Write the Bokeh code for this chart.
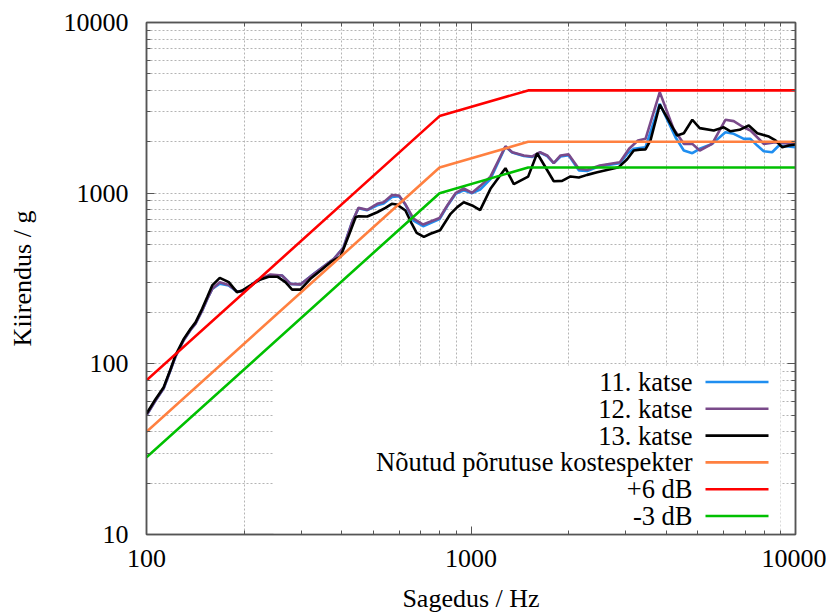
from bokeh.plotting import figure
from bokeh.models import FixedTicker, LogAxis, BoxAnnotation, Label
from bokeh.embed import file_html
from bokeh.resources import INLINE

# ---------------- data ----------------
freq_11 = [100, 106.6, 113, 118.6, 122.8, 130.3, 136.6, 141.6, 148.4, 153.9, 159.4, 168.2, 179.3, 190, 197,
           209, 219, 241, 262, 278, 298, 328, 378, 405, 430, 450, 479, 514, 538, 571, 600, 628, 665, 712,
           800, 845, 896, 950, 1008, 1067, 1148, 1277, 1340, 1455, 1545, 1632, 1717, 1799, 1888, 2000,
           2149, 2280, 2496, 2876, 3028, 3174, 3450, 3817, 4266, 4527, 4809, 5067, 5534, 6081, 6452,
           6934, 7264, 7624, 7983, 8472, 8890, 10000]
acc_11 = [50, 61, 72, 92, 110, 138, 158, 172, 205, 240, 275, 295, 288, 265, 266,
          285, 308, 330, 329, 294, 292, 337, 412, 482, 676, 815, 795, 850, 870, 950, 960, 855, 690, 640,
          705, 840, 990, 1040, 1000, 1050, 1210, 1870, 1730, 1650, 1630, 1730, 1650, 1500, 1640, 1670,
          1360, 1350, 1440, 1500, 1700, 1820, 1858, 3342, 2128, 1778, 1714, 1820, 1945, 2275, 2228,
          2081, 2081, 1901, 1762, 1738, 1901, 1858]

freq_12 = [100, 106.6, 113, 118.6, 122.8, 130.3, 136.6, 141.6, 148.4, 153.9, 159.4, 168.2, 179.3, 190, 197,
           209, 219, 241, 262, 278, 298, 328, 378, 405, 430, 450, 479, 514, 538, 571, 600, 628, 665, 712,
           800, 845, 896, 950, 1008, 1067, 1148, 1277, 1340, 1455, 1545, 1632, 1717, 1799, 1888, 2000,
           2149, 2280, 2496, 2876, 3070, 3270, 3450, 3817, 4207, 4527, 4809, 5067, 5534, 6081, 6452,
           6851, 7264, 7983, 8676, 9683, 10000]
acc_12 = [50, 61, 72, 92, 110, 138, 158, 172, 205, 240, 275, 301, 290, 265, 266,
          285, 308, 334, 329, 294, 292, 337, 412, 482, 676, 820, 799, 866, 885, 975, 968, 860, 710, 655,
          715, 847, 1000, 1065, 1005, 1100, 1250, 1884, 1738, 1663, 1641, 1738, 1663, 1500, 1663, 1687,
          1390, 1371, 1452, 1517, 1820, 2037, 2081, 3909, 2385, 1945, 1945, 1778, 1945, 2692, 2642,
          2459, 2328, 1945, 1989, 1945, 1989]

freq_13 = [100, 106.6, 113, 118.6, 122.8, 130.3, 136.6, 141.6, 148.4, 153.9, 159.4, 168.2, 179.3, 190, 197,
           209, 224.5, 238, 253, 268, 281, 298, 320, 344, 369, 396, 420, 441, 450, 479, 514, 545, 570,
           590, 628, 655, 680, 716, 750, 803, 865, 907, 950, 1008, 1067, 1148, 1277, 1355, 1500, 1599,
           1799, 1909, 2026, 2149, 2280, 2449, 2853, 3028, 3174, 3313, 3450, 3574, 3817, 4316, 4527,
           4809, 5067, 5598, 6011, 6306, 6724, 7180, 7624, 8280, 8676, 9101, 9537, 10000]
acc_13 = [51, 62, 73, 93, 112, 140, 160, 175, 210, 246, 288, 319, 301, 263, 269,
          288, 312, 324, 324, 301, 272, 272, 315, 352, 394, 425, 565, 723, 732, 730, 773, 820, 866,
          859, 791, 670, 585, 555, 578, 606, 757, 828, 885, 847, 795, 1060, 1400, 1130, 1250, 1714,
          1175, 1180, 1253, 1235, 1280, 1327, 1420, 1580, 1778, 1800, 1803, 2037, 3304, 2177, 2245,
          2692, 2404, 2328, 2432, 2305, 2350, 2490, 2245, 2147, 2037, 1858, 1901, 1927]

freq_req = [100, 800, 1500, 10000]
acc_req = [40, 1414, 2000, 2000]
acc_plus6 = [80, 2828, 4000, 4000]
acc_minus3 = [28.3, 1000, 1414, 1414]

legend_labels = ["11. katse", "12. katse", "13. katse",
                 "Nõutud põrutuse kostespekter", "+6 dB", "-3 dB"]
colors = ["#1f8ef0", "#7a4a8a", "#000000", "#ff8040", "#ff0000", "#00c000"]

x_major = [100, 1000, 10000]
y_major = [10, 100, 1000, 10000]

# ---------------- figure ----------------
FONT = "'Liberation Serif', serif"
FW, FH = 649, 512
ML, MR, MT, MB = 146, 31, 22, 80

p = figure(frame_width=FW, frame_height=FH, x_axis_type="log", y_axis_type="log",
           x_range=(100, 10000), y_range=(10, 10000),
           output_backend="svg", toolbar_location=None,
           min_border_left=ML, min_border_right=MR, min_border_top=MT, min_border_bottom=MB,
           x_axis_label="Sagedus / Hz", y_axis_label="Kiirendus / g")

x_minor = [m * d for d in [100, 1000] for m in range(2, 10)]
y_minor = [m * d for d in [10, 100, 1000] for m in range(2, 10)]
xt = FixedTicker(ticks=x_major, minor_ticks=x_minor)
yt = FixedTicker(ticks=y_major, minor_ticks=y_minor)

p.xaxis.ticker = xt
p.yaxis.ticker = yt
p.xaxis.major_label_overrides = {v: str(v) for v in x_major}
p.yaxis.major_label_overrides = {v: str(v) for v in y_major}

frame_col = "#555555"
for ax in [p.xaxis[0], p.yaxis[0]]:
    ax.major_label_text_font = FONT
    ax.major_label_text_font_size = "26px"
    ax.major_label_text_color = "black"
    ax.axis_label_text_font = FONT
    ax.axis_label_text_font_size = "26px"
    ax.axis_label_text_font_style = "normal"
    ax.axis_label_text_color = "black"
    ax.major_tick_in = 8
    ax.major_tick_out = 0
    ax.minor_tick_in = 4
    ax.minor_tick_out = 0
    ax.axis_line_color = frame_col
    ax.axis_line_width = 1.5
    ax.major_tick_line_color = frame_col
    ax.minor_tick_line_color = frame_col
p.xaxis.major_label_standoff = 15
p.xaxis.axis_label_standoff = 14
p.yaxis.major_label_standoff = 18
p.yaxis.axis_label_standoff = 24

# mirror axes (ticks only)
for loc, tk in [("right", yt), ("above", xt)]:
    ax = LogAxis(ticker=tk, major_label_text_font_size="2px", major_label_text_alpha=0.0,
                 major_label_standoff=0,
                 major_tick_in=8, major_tick_out=0, minor_tick_in=4, minor_tick_out=0,
                 axis_line_color=frame_col, axis_line_width=1.5,
                 major_tick_line_color=frame_col, minor_tick_line_color=frame_col)
    p.add_layout(ax, loc)

p.outline_line_color = frame_col
p.outline_line_width = 1.5

for g in [p.xgrid[0], p.ygrid[0]]:
    g.grid_line_color = "#b4b4b4"
    g.grid_line_dash = "2 2"
    g.grid_line_width = 1
    g.minor_grid_line_color = "#b4b4b4"
    g.minor_grid_line_dash = "2 2"
    g.minor_grid_line_width = 1
p.xgrid.ticker = xt
p.ygrid.ticker = yt

# frame geometry helpers (screen pixels -> data) for the legend block
FX0, FX1, FY0, FY1 = ML, ML + FW, MT, MT + FH


def fx(px):
    return 10 ** (2 + 2 * (px - FX0) / (FX1 - FX0))


def fy(py):
    return 10 ** (1 + 3 * (FY1 - py) / (FY1 - FY0))


# white legend background hiding the grid
box = BoxAnnotation(left=fx(273), right=fx(780), top=fy(365), bottom=fy(533),
                    fill_color="white", fill_alpha=1.0, line_color=None, level="underlay")
p.add_layout(box)

LW = 2.6
series = [(freq_11, acc_11), (freq_12, acc_12), (freq_13, acc_13),
          (freq_req, acc_req), (freq_req, acc_plus6), (freq_req, acc_minus3)]
for (fr, ac), c in zip(series, colors):
    p.line(fr, ac, line_color=c, line_width=LW)

# manual legend: text right-aligned, line sample to the right
row0, drow = 381.5, 26.8
for i, (lab, c) in enumerate(zip(legend_labels, colors)):
    yy = fy(row0 + i * drow)
    p.add_layout(Label(x=fx(692), y=yy, text=lab, text_align="right", text_baseline="middle",
                       text_font=FONT, text_font_size="26.5px", text_color="black"))
    p.line([fx(705), fx(768)], [yy, yy], line_color=c, line_width=LW)

open("out.html", "w").write(file_html(p, INLINE))
